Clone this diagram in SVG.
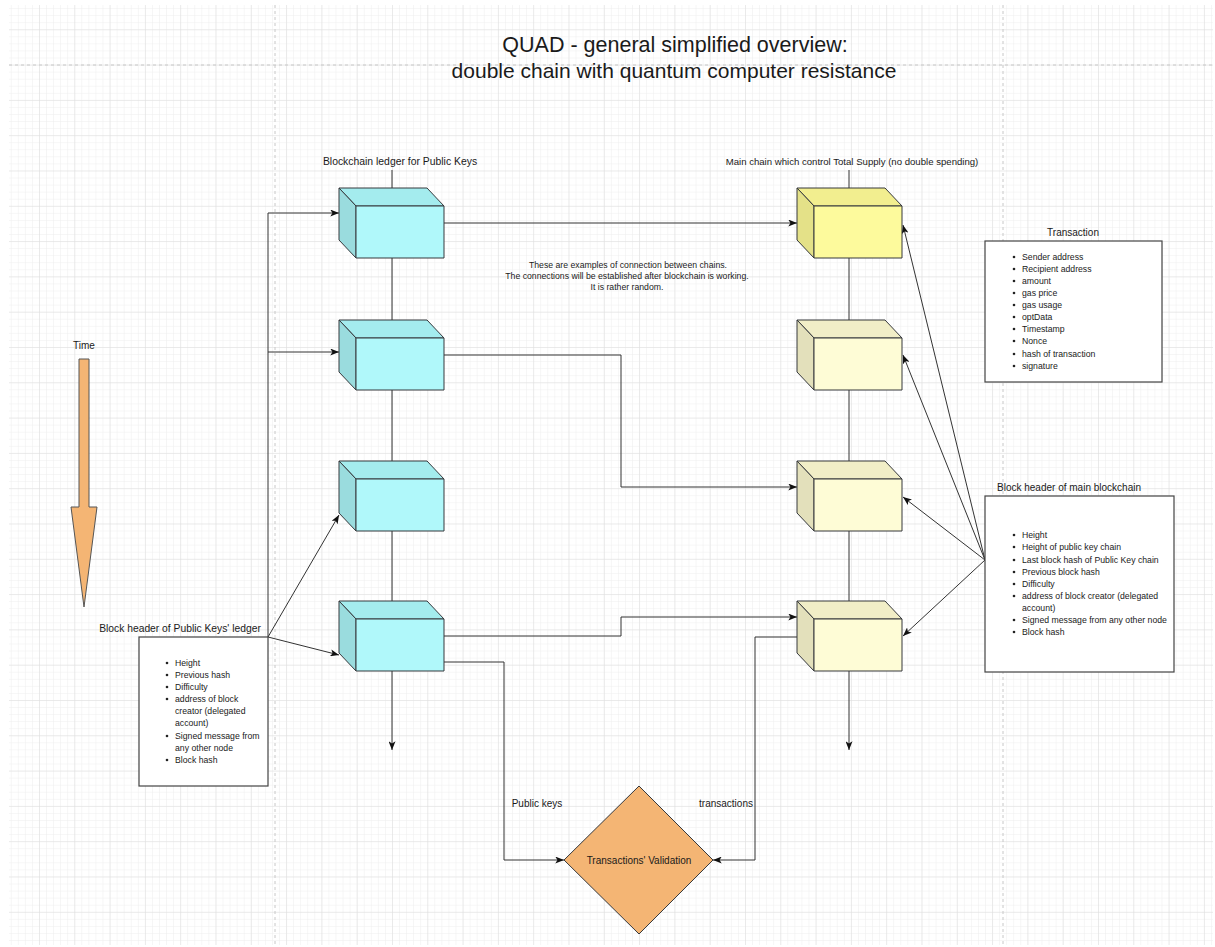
<svg xmlns="http://www.w3.org/2000/svg" width="1215" height="947" viewBox="0 0 1215 947">
<style>
text{font-family:"Liberation Sans",Arial,sans-serif;fill:#1a1a1a}
.t10{font-size:10px}
.t9{font-size:8.7px}
.c{text-anchor:middle}
.edge{fill:none;stroke:#333;stroke-width:1}
.box{fill:#fff;stroke:#444;stroke-width:1.2}
.cs{stroke:#36393d;stroke-width:1;stroke-linejoin:round}
.bf{fill:#b0f8fa}.bt{fill:#a4ecee}.bs{fill:#9adcde}
.yf{fill:#fdfa9c}.yt{fill:#f2ee8f}.ys{fill:#e4e188}
.lf{fill:#fefcd6}.lt{fill:#f1eec7}.ls{fill:#e3e0bb}
.dash{stroke:#c8c8c8;stroke-width:1;stroke-dasharray:3,3;fill:none}
</style>
<defs>
<pattern id="minor" patternUnits="userSpaceOnUse" x="3.7" y="29.3" width="7.06" height="7.06">
<path d="M0,0 H7.06 M0,0 V7.06" stroke="#eeeeee" stroke-width="1" fill="none"/>
</pattern>
<pattern id="major" patternUnits="userSpaceOnUse" x="3.7" y="29.3" width="35.3" height="35.3">
<path d="M0,0 H35.3 M0,0 V35.3" stroke="#dedede" stroke-width="1" fill="none"/>
</pattern>
<marker id="arr" viewBox="0 0 10 8" refX="10" refY="4" markerWidth="9" markerHeight="7" orient="auto" markerUnits="userSpaceOnUse">
<path d="M0,0 L10,4 L0,8 L2.5,4 Z" fill="#111"/>
</marker>
</defs>
<rect width="1215" height="947" fill="#fff"/>
<rect x="9" y="5" width="1204" height="940" fill="url(#minor)"/>
<rect x="9" y="5" width="1204" height="940" fill="url(#major)"/>
<path class="dash" d="M9,65 H1213 M275,5 V945 M1003,5 V945"/>

<g id="title">
<text x="675" y="52" class="c" style="font-size:21.5px">QUAD - general simplified overview:</text>
<text x="674" y="78" class="c" style="font-size:21px">double chain with quantum computer resistance</text>
</g>

<g id="connectors">
<path class="edge" d="M392,170 V188 M392,258 V320 M392,390 V461 M392,531 V601"/>
<path class="edge" d="M392,671 V750" marker-end="url(#arr)"/>
<path class="edge" d="M849,170 V188 M849,258 V320 M849,390 V461 M849,531 V601"/>
<path class="edge" d="M849,671 V750" marker-end="url(#arr)"/>
<path class="edge" d="M444,223 H797" marker-end="url(#arr)"/>
<path class="edge" d="M444,355 H621 V487 H797" marker-end="url(#arr)"/>
<path class="edge" d="M444,636 H621 V617 H797" marker-end="url(#arr)"/>
<path class="edge" d="M444,662 H504 V860 H564" marker-end="url(#arr)"/>
<path class="edge" d="M797,637 H755 V860 H713" marker-end="url(#arr)"/>
<path class="edge" d="M268,637 V213 H339" marker-end="url(#arr)"/>
<path class="edge" d="M268,352 H339" marker-end="url(#arr)"/>
<path class="edge" d="M268,637 L339,515" marker-end="url(#arr)"/>
<path class="edge" d="M268,637 L339,655" marker-end="url(#arr)"/>
<path class="edge" d="M985,560 L903,225" marker-end="url(#arr)"/>
<path class="edge" d="M985,560 L903,355" marker-end="url(#arr)"/>
<path class="edge" d="M985,560 L903,497" marker-end="url(#arr)"/>
<path class="edge" d="M985,560 L903,636" marker-end="url(#arr)"/>
<text x="537" y="807" class="t10 c">Public keys</text>
<text x="726" y="807" class="t10 c">transactions</text>
</g>

<g id="label-left"><text x="400" y="165" class="c" style="font-size:10.4px">Blockchain ledger for Public Keys</text></g>
<g id="label-right"><text x="852" y="165" class="c" style="font-size:9.6px">Main chain which control Total Supply (no double spending)</text></g>

<g id="note">
<text x="628" y="268" class="t9 c">These are examples of connection between chains.</text>
<text x="627" y="279" class="t9 c">The connections will be established after blockchain is working.</text>
<text x="627" y="290" class="t9 c">It is rather random.</text>
</g>

<g id="pk1" class="cs">
<polygon class="bt" points="339,188 427,188 444,206 356,206"/>
<polygon class="bs" points="339,188 356,206 356,258 339,240"/>
<rect class="bf" x="356" y="206" width="88" height="52"/>
</g>
<g id="pk2" class="cs">
<polygon class="bt" points="339,320 427,320 444,338 356,338"/>
<polygon class="bs" points="339,320 356,338 356,390 339,372"/>
<rect class="bf" x="356" y="338" width="88" height="52"/>
</g>
<g id="pk3" class="cs">
<polygon class="bt" points="339,461 427,461 444,479 356,479"/>
<polygon class="bs" points="339,461 356,479 356,531 339,513"/>
<rect class="bf" x="356" y="479" width="88" height="52"/>
</g>
<g id="pk4" class="cs">
<polygon class="bt" points="339,601 427,601 444,619 356,619"/>
<polygon class="bs" points="339,601 356,619 356,671 339,653"/>
<rect class="bf" x="356" y="619" width="88" height="52"/>
</g>

<g id="mc1" class="cs">
<polygon class="yt" points="797,188 885,188 902,206 814,206"/>
<polygon class="ys" points="797,188 814,206 814,258 797,240"/>
<rect class="yf" x="814" y="206" width="88" height="52"/>
</g>
<g id="mc2" class="cs">
<polygon class="lt" points="797,320 885,320 902,338 814,338"/>
<polygon class="ls" points="797,320 814,338 814,390 797,372"/>
<rect class="lf" x="814" y="338" width="88" height="52"/>
</g>
<g id="mc3" class="cs">
<polygon class="lt" points="797,461 885,461 902,479 814,479"/>
<polygon class="ls" points="797,461 814,479 814,531 797,513"/>
<rect class="lf" x="814" y="479" width="88" height="52"/>
</g>
<g id="mc4" class="cs">
<polygon class="lt" points="797,601 885,601 902,619 814,619"/>
<polygon class="ls" points="797,601 814,619 814,671 797,653"/>
<rect class="lf" x="814" y="619" width="88" height="52"/>
</g>

<g id="validation">
<polygon points="639,786 713,860 639,934 564,860" fill="#f4b574" stroke="#36393d" stroke-width="1"/>
<text x="639" y="864" class="t10 c">Transactions' Validation</text>
</g>

<g id="time">
<text x="84" y="349" class="t10 c">Time</text>
<polygon points="79,359 89,359 89,507 97,507 84,607 71,507 79,507" fill="#f4b574" stroke="#555" stroke-width="1"/>
</g>

<g id="transaction">
<text x="1073" y="236" class="t10 c">Transaction</text>
<rect class="box" x="985" y="241" width="177" height="141"/>
<g fill="#222">
<circle cx="1014" cy="257" r="1.3"/><circle cx="1014" cy="269" r="1.3"/><circle cx="1014" cy="281" r="1.3"/><circle cx="1014" cy="293" r="1.3"/><circle cx="1014" cy="305" r="1.3"/><circle cx="1014" cy="317" r="1.3"/><circle cx="1014" cy="329" r="1.3"/><circle cx="1014" cy="341" r="1.3"/><circle cx="1014" cy="354" r="1.3"/><circle cx="1014" cy="366" r="1.3"/>
</g>
<text class="t9" x="1022" y="260">Sender address</text>
<text class="t9" x="1022" y="272">Recipient address</text>
<text class="t9" x="1022" y="284">amount</text>
<text class="t9" x="1022" y="296">gas price</text>
<text class="t9" x="1022" y="308">gas usage</text>
<text class="t9" x="1022" y="320">optData</text>
<text class="t9" x="1022" y="332">Timestamp</text>
<text class="t9" x="1022" y="344">Nonce</text>
<text class="t9" x="1022" y="357">hash of transaction</text>
<text class="t9" x="1022" y="369">signature</text>
</g>

<g id="main-header">
<text x="997" y="491" class="t10">Block header of main blockchain</text>
<rect class="box" x="985" y="496" width="189" height="176"/>
<g fill="#222">
<circle cx="1014" cy="535" r="1.3"/><circle cx="1014" cy="547" r="1.3"/><circle cx="1014" cy="560" r="1.3"/><circle cx="1014" cy="572" r="1.3"/><circle cx="1014" cy="584" r="1.3"/><circle cx="1014" cy="596" r="1.3"/><circle cx="1014" cy="620" r="1.3"/><circle cx="1014" cy="632" r="1.3"/>
</g>
<text class="t9" x="1022" y="538">Height</text>
<text class="t9" x="1022" y="550">Height of public key chain</text>
<text class="t9" x="1022" y="563">Last block hash of Public Key chain</text>
<text class="t9" x="1022" y="575">Previous block hash</text>
<text class="t9" x="1022" y="587">Difficulty</text>
<text class="t9" x="1022" y="599">address of block creator (delegated</text>
<text class="t9" x="1022" y="611">account)</text>
<text class="t9" x="1022" y="623">Signed message from any other node</text>
<text class="t9" x="1022" y="635">Block hash</text>
</g>

<g id="pk-header">
<text x="180" y="632" class="c" style="font-size:10.3px">Block header of Public Keys' ledger</text>
<rect class="box" x="139" y="637" width="129" height="149"/>
<g fill="#222">
<circle cx="167" cy="663" r="1.3"/><circle cx="167" cy="675" r="1.3"/><circle cx="167" cy="687" r="1.3"/><circle cx="167" cy="699" r="1.3"/><circle cx="167" cy="736" r="1.3"/><circle cx="167" cy="760" r="1.3"/>
</g>
<text class="t9" x="175" y="666">Height</text>
<text class="t9" x="175" y="678">Previous hash</text>
<text class="t9" x="175" y="690">Difficulty</text>
<text class="t9" x="175" y="702">address of block</text>
<text class="t9" x="175" y="714">creator (delegated</text>
<text class="t9" x="175" y="726">account)</text>
<text class="t9" x="175" y="739">Signed message from</text>
<text class="t9" x="175" y="751">any other node</text>
<text class="t9" x="175" y="763">Block hash</text>
</g>
</svg>
